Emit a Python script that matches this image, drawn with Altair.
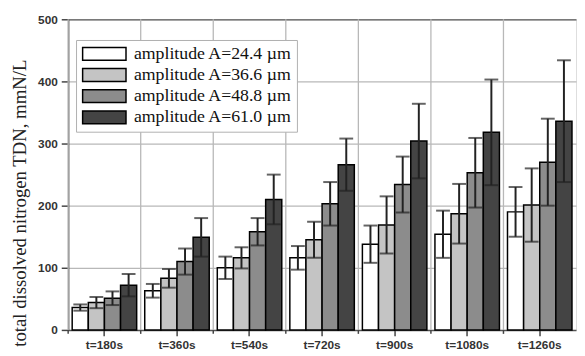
import altair as alt
import pandas as pd

times = ["t=180s", "t=360s", "t=540s", "t=720s", "t=900s", "t=1080s", "t=1260s"]
amps = ["amplitude A=24.4 \u00b5m", "amplitude A=36.6 \u00b5m",
        "amplitude A=48.8 \u00b5m", "amplitude A=61.0 \u00b5m"]
colors = ["#ffffff", "#c4c4c4", "#8c8c8c", "#444444"]

mean_24 = [36, 63, 100, 116, 138, 154, 190]
mean_36 = [44, 83, 116, 145, 169, 187, 201]
mean_48 = [51, 110, 158, 203, 234, 253, 270]
mean_61 = [72, 149, 210, 266, 304, 318, 336]
err_24 = [5, 11, 18, 19, 30, 38, 40]
err_36 = [9, 15, 17, 29, 46, 48, 59]
err_48 = [11, 21, 22, 35, 45, 56, 70]
err_61 = [18, 31, 40, 42, 60, 85, 98]

means = [mean_24, mean_36, mean_48, mean_61]
errs = [err_24, err_36, err_48, err_61]

rows = []
for a, m_list, e_list in zip(amps, means, errs):
    for t, m, e in zip(times, m_list, e_list):
        rows.append({"t": t, "amp": a, "mean": m, "lo": m - e, "hi": m + e})
df = pd.DataFrame(rows)
cats = pd.DataFrame({"t": times})

W, H = 515, 315

xscale = alt.Scale(paddingInner=0, paddingOuter=0)
xoff = alt.XOffset("amp:N", sort=amps, scale=alt.Scale(paddingInner=0, paddingOuter=0.25))
yscale = alt.Scale(domain=[0, 500], nice=False)

yaxis = alt.Axis(
    values=list(range(0, 501, 50)),
    labelExpr="datum.value % 100 === 0 ? datum.label : ''",
    title="total dissolved nitrogen  TDN, mmN/L",
    titleFont="Liberation Serif", titleFontSize=19, titleFontWeight="normal",
    titleColor="#222", titleX=-39, titleY=186, titleBaseline="bottom", titleAlign="center",
    labelFont="Liberation Sans", labelFontWeight="bold", labelFontSize=12, labelColor="#333",
    labelPadding=4,
    tickSize={"condition": {"test": "datum.value % 100 === 0", "value": 7}, "value": 4},
    tickColor="#444", tickWidth=1.5,
    domainColor="#555", domainWidth=1.5,
    gridColor={"condition": {"test": "datum.value === 500", "value": "#555"}, "value": "#b8b8b8"},
    gridOpacity={"condition": {"test": "datum.value % 100 === 0 && datum.value > 0", "value": 1}, "value": 0},
    gridWidth=1.3,
)

xaxis = alt.Axis(
    title=None, labelAngle=0, grid=False,
    labelFont="Liberation Sans", labelFontWeight="bold", labelFontSize=12, labelColor="#333",
    labelPadding=4, tickSize=6, tickColor="#444", tickWidth=1.5,
    domainColor="#555", domainWidth=1.5,
)

vgrid = alt.Chart(cats).mark_rule(color="#b8b8b8", strokeWidth=1.3).encode(
    x=alt.X("t:N", sort=times, scale=xscale, bandPosition=0, axis=xaxis),
    y=alt.value(0), y2=alt.value(H),
)
vtick = alt.Chart(cats).mark_rule(color="#444", strokeWidth=1.5).encode(
    x=alt.X("t:N", sort=times, scale=xscale, bandPosition=0),
    y=alt.value(H), y2=alt.value(H + 4),
)

bars = alt.Chart(df).mark_bar(stroke="black", strokeWidth=1.5, opacity=1).encode(
    x=alt.X("t:N", sort=times, scale=xscale, axis=xaxis),
    xOffset=xoff,
    y=alt.Y("mean:Q", scale=yscale, axis=yaxis),
    color=alt.Color(
        "amp:N", sort=amps, scale=alt.Scale(domain=amps, range=colors),
        legend=alt.Legend(
            title=None, orient="none", legendX=8, legendY=21,
            symbolType="M-3,-0.886H3V0.886H-3Z", symbolSize=215,
            symbolOffset=14.67, labelOffset=21,
            symbolStrokeColor="black", symbolStrokeWidth=1.5, symbolOpacity=1,
            labelFont="Liberation Serif", labelFontSize=18, labelColor="#111",
            labelLimit=400, rowPadding=1.5, padding=5,
            fillColor="white", strokeColor="#b0b0b0",
        ),
    ),
)

ebar = alt.Chart(df).mark_rule(color="#222", strokeWidth=2).encode(
    x=alt.X("t:N", sort=times, scale=xscale),
    xOffset=xoff,
    y=alt.Y("lo:Q", scale=yscale),
    y2="hi:Q",
)
cap_hi = alt.Chart(df).mark_tick(color="#222", thickness=2, size=14, orient="horizontal").encode(
    x=alt.X("t:N", sort=times, scale=xscale),
    xOffset=xoff,
    y=alt.Y("hi:Q", scale=yscale),
)
cap_lo = alt.Chart(df).mark_tick(color="#222", thickness=2, size=14, orient="horizontal").encode(
    x=alt.X("t:N", sort=times, scale=xscale),
    xOffset=xoff,
    y=alt.Y("lo:Q", scale=yscale),
)

chart = alt.layer(vgrid, vtick, bars, ebar, cap_hi, cap_lo).properties(
    width=W, height=H,
    autosize=alt.AutoSizeParams(type="none"),
    padding={"left": 61, "top": 9, "right": 1, "bottom": 24},
).configure_view(stroke=None).configure(background="white")

chart.save("out.html", embed_options={"renderer": "svg", "actions": False})
